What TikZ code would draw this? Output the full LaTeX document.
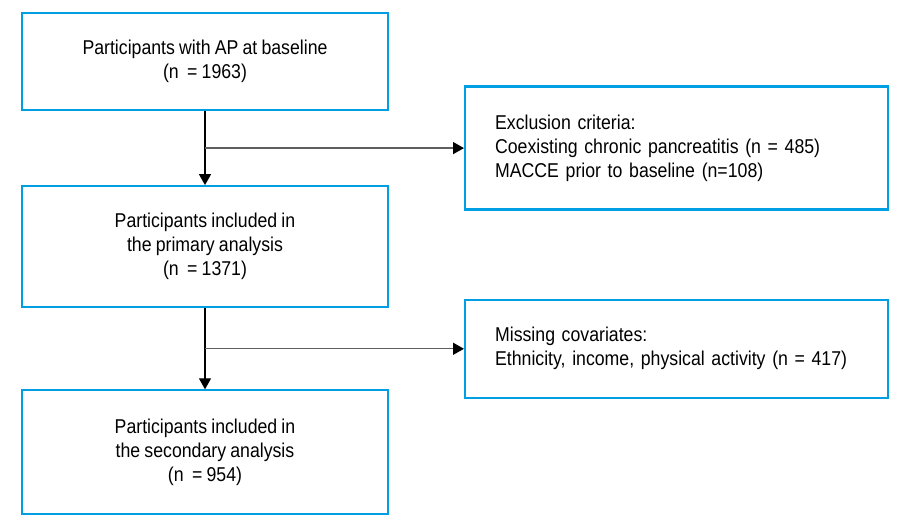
\documentclass[tikz,border=0pt]{standalone}
\usepackage{fontspec}
\setmainfont{Liberation Sans}[FakeStretch=0.885,WordSpace=0.85]
\usepackage{tikz}
\usetikzlibrary{
  arrows.meta,
  calc,
  positioning
}
\definecolor{boxblue}{RGB}{0,158,226}
\definecolor{linegray}{RGB}{95,95,95}
\tikzset{
  stage/.style={draw=boxblue,line width=2.2pt,fill=white,
    minimum width=366pt,align=center,inner sep=4pt,
    font=\fontsize{20pt}{24pt}\selectfont},
  note/.style={draw=boxblue,line width=2.2pt,fill=white,
    text width=363pt,inner xsep=30pt,align=left,
    font=\fontsize{20pt}{24pt}\selectfont},
  mainflow/.style={-{Triangle[length=11pt,width=12pt]},line width=1.3pt,draw=black},
  exflow/.style={-{Triangle[length=11pt,width=12pt,color=black]},line width=1.4pt,draw=linegray}
}

\begin{document}
\begin{tikzpicture}[node distance=74pt]
  \useasboundingbox (0,0) rectangle (899pt,527pt);
  \node[stage,minimum height=97pt] (base) at (205pt,465.5pt) {
    Participants with AP at baseline\\
    (n~~= 1963)};
  \node[stage,below=of base,minimum height=121pt] (prim) {
    Participants included in\\
    the primary analysis\\
    (n~~= 1371)};
  \node[stage,below=81pt of prim,minimum height=124pt] (sec) {
    Participants included in\\
    the secondary analysis\\
    (n~~= 954)};

  \coordinate (split1) at ($(base.south)!0.5!(prim.north)$);
  \coordinate (split2) at ($(prim.south)!0.5!(sec.north)$);

  \node[note,anchor=west,minimum height=123pt] (excl) at ([xshift=259pt]split1) {
    Exclusion criteria:\\
    Coexisting chronic pancreatitis (n = 485)\\
    MACCE prior to baseline (n=108)};
  \node[note,anchor=west,minimum height=98pt] (miss) at ([xshift=259pt]split2) {
    Missing covariates:\\
    Ethnicity, income, physical activity (n = 417)};

  \draw[mainflow] (base)--(prim);
  \draw[mainflow] (prim)--(sec);
  \draw[exflow] (split1)--(excl);
  \draw[exflow] (split2)--(miss);
\end{tikzpicture}
\end{document}
